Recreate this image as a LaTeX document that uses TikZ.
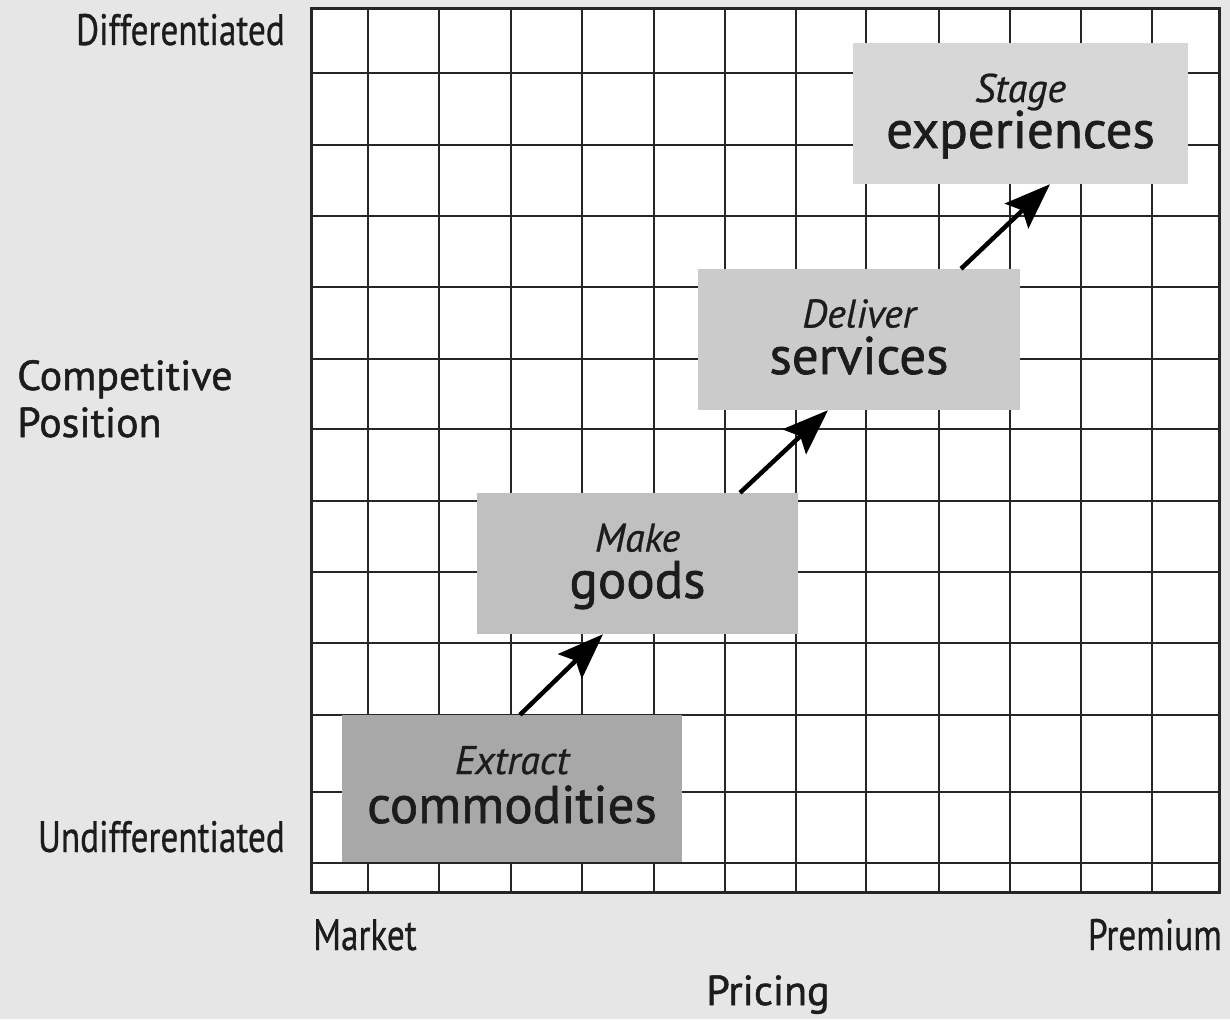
\documentclass[tikz,border=0pt]{standalone}
\usepackage{fontspec}
\setmainfont{PT Sans}
\newfontfamily\condfont[FakeStretch=0.8,FakeBold=0.6]{PT Sans}
\newfontfamily\heavyfont[FakeBold=1.2]{PT Sans}
\newfontfamily\slantfont[FakeBold=0.6]{PT Sans Italic}
\usetikzlibrary{arrows.meta}
\definecolor{bg}{HTML}{E6E6E6}
\definecolor{ink}{HTML}{1C1C1C}
\definecolor{gridc}{HTML}{262626}
\definecolor{cA}{HTML}{A8A8A8}
\definecolor{cB}{HTML}{C0C0C0}
\definecolor{cC}{HTML}{CBCBCB}
\definecolor{cD}{HTML}{D7D7D7}
\tikzset{
  gridline/.style={draw=gridc, line width=2pt},
  frameline/.style={draw=gridc, line width=3pt},
  stagebox/.style={rectangle, draw=none, inner sep=0pt, minimum height=141pt},
  verb/.style={font=\slantfont\fontsize{40}{46}\selectfont, text=ink, inner sep=0pt, anchor=base},
  noun/.style={font=\heavyfont\fontsize{53}{60}\selectfont, text=ink, inner sep=0pt, anchor=base},
  axlab/.style={font=\condfont\fontsize{44}{50}\selectfont, text=ink, inner sep=0pt},
  title/.style={font=\heavyfont\fontsize{42}{47}\selectfont, text=ink, inner sep=0pt},
  conn/.style={draw=black, line width=4.5pt, -{Stealth[length=46pt,width=34pt,inset=8pt]}}
}
\begin{document}
\begin{tikzpicture}[x=1pt,y=-1pt]
\fill[bg] (0,0) rectangle (1230,1019);
\useasboundingbox (0,0) rectangle (1230,1019);
% grid
\fill[white] (311,9) rectangle (1219,892);
\foreach \x in {368,439,511,582,654,725,796,866,939,1010,1081,1152}
  \draw[gridline] (\x,9) -- (\x,892);
\foreach \y in {73.5,144.7,215.8,287,358.8,429.4,501,572,643,714.7,792,862.8}
  \draw[gridline] (311,\y) -- (1219,\y);
\draw[frameline] (311,9) rectangle (1219,892);
% boxes
\node[stagebox, fill=cA, minimum width=340pt, minimum height=147pt] (comm) at (512,788.5) {};
\node[stagebox, fill=cB, minimum width=321pt] (goods) at (637.5,563.5) {};
\node[stagebox, fill=cC, minimum width=322pt] (serv) at (859,339.5) {};
\node[stagebox, fill=cD, minimum width=335pt] (stage) at (1020.5,113.5) {};
% box texts
\node[verb] (commV) at ([yshift=14.5pt]comm.center) {Extract};
\node[noun] (commN) at ([yshift=-34.5pt]comm.center) {commodities};
\node[verb] (goodsV) at ([yshift=12pt]goods.center) {Make};
\node[noun] (goodsN) at ([yshift=-34.5pt]goods.center) {goods};
\node[verb] (servV) at ([yshift=12pt]serv.center) {Deliver};
\node[noun] (servN) at ([yshift=-34.5pt]serv.center) {services};
\node[verb] (stageV) at ([yshift=11.5pt]stage.center) {Stage};
\node[noun] (stageN) at ([yshift=-34.5pt]stage.center) {experiences};
% arrows
\draw[conn] ([xshift=8pt]comm.north) -- ([xshift=-34.5pt]goods.south);
\draw[conn] ([xshift=102.5pt]goods.north) -- ([xshift=-31pt]serv.south);
\draw[conn] ([xshift=102pt]serv.north) -- ([xshift=29.5pt]stage.south);
% axis labels
\node[axlab, anchor=base east] (diff) at (285,45) {Differentiated};
\node[axlab, anchor=base east] (undiff) at (285,852) {Undifferentiated};
\node[axlab, anchor=base west] (market) at (313,950) {Market};
\node[axlab, anchor=base east] (premium) at (1222,950) {Premium};
\node[title, anchor=base west, align=left] (cp) at (17,437) {Competitive\\Position};
\node[title, anchor=base] (pricing) at (768,1005) {Pricing};
\end{tikzpicture}
\end{document}
